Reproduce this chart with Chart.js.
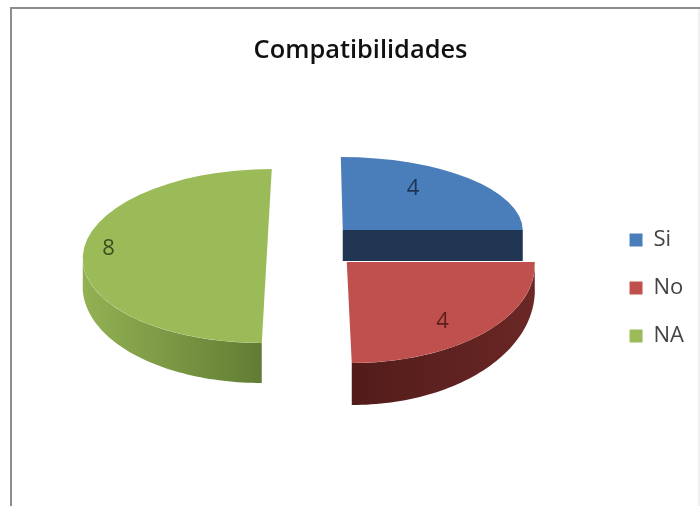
<!DOCTYPE html>
<html>
<head>
<meta charset="utf-8">
<style>
  html, body { margin: 0; padding: 0; background: #fff; }
  #wrap { width: 700px; height: 506px; }
</style>
<script src="https://cdn.jsdelivr.net/npm/chart.js@4"></script>
</head>
<body>
<div id="wrap"><canvas id="pie" width="700" height="506"></canvas></div>
<script>
// Chart content
const titleText = 'Compatibilidades';
const categories = ['Si', 'No', 'NA'];
const values = [4, 4, 8];
const topColors = ['#4a7ebb', '#c0504d', '#9bbb59'];

// Per-slice tilt: shift from the pie centre, horizontal/vertical scale and shear
const shiftX = [27.5, 31.5, -48.5];
const shiftY = [-58, -26, -32];
const scaleX = [0.90, 0.94, 0.92];
const scaleY = [0.365, 0.505, 0.435];
const shear = [0.01, 0.025, -0.025];

// Extruded rim: depth at the sides and at the front, and its shading left to right
const depthSide = [0, 25, 28];
const depthFront = [0, 42, 40];
const wallLeft = ['#1f3552', '#521c1a', '#93b153'];
const wallRight = ['#1f3552', '#6a2725', '#617d34'];
// Flat cut face of the first slice
const cutDepth = [31, 0, 0];
const cutColor = ['#1f3552', null, null];

// Value labels: position along the arc (0..1) and along the radius (0..1)
const labelAlong = [0.375, 0.545, 0.54];
const labelRadial = [0.715, 0.755, 0.87];
const labelColors = ['#1d3554', '#5a1f1d', '#3b4f1c'];

const drawOrder = [2, 0, 1];

function project(p, i, px, py) {
  const dx = px - p.x, dy = py - p.y;
  return {
    x: p.x + shiftX[i] + scaleX[i] * dx + shear[i] * dy,
    y: p.y + shiftY[i] + scaleY[i] * dy
  };
}

function drawRim(ctx, p, i) {
  const R = p.outerRadius;
  if (cutDepth[i] > 0) {
    const a = project(p, i, p.x, p.y);
    const b = project(p, i, p.x + R * Math.cos(p.endAngle), p.y + R * Math.sin(p.endAngle));
    ctx.fillStyle = cutColor[i];
    ctx.beginPath();
    ctx.moveTo(a.x, a.y);
    ctx.lineTo(b.x, b.y);
    ctx.lineTo(b.x, b.y + cutDepth[i]);
    ctx.lineTo(a.x, a.y + cutDepth[i]);
    ctx.closePath();
    ctx.fill();
  }
  const from = Math.max(p.startAngle, 0);
  const to = Math.min(p.endAngle, Math.PI);
  if (to <= from) return;
  const upper = [], lower = [];
  const steps = 60;
  for (let s = 0; s <= steps; s++) {
    const a = from + (to - from) * s / steps;
    const q = project(p, i, p.x + R * Math.cos(a), p.y + R * Math.sin(a));
    upper.push(q);
    lower.push({ x: q.x, y: q.y + depthSide[i] + (depthFront[i] - depthSide[i]) * Math.sin(a) });
  }
  const xs = upper.map(q => q.x);
  const grad = ctx.createLinearGradient(Math.min(...xs), 0, Math.max(...xs), 0);
  grad.addColorStop(0, wallLeft[i]);
  grad.addColorStop(1, wallRight[i]);
  ctx.fillStyle = grad;
  ctx.beginPath();
  upper.forEach((q, n) => n ? ctx.lineTo(q.x, q.y) : ctx.moveTo(q.x, q.y));
  lower.reverse().forEach(q => ctx.lineTo(q.x, q.y));
  ctx.closePath();
  ctx.fill();
}

// Draws the slices tilted, with rim and value labels, instead of the flat default
const tiltedPie = {
  id: 'tiltedPie',
  beforeDatasetDraw(chart, args) {
    const ctx = chart.ctx;
    const arcs = args.meta.data;
    drawOrder.forEach(i => {
      const arc = arcs[i];
      const p = arc.getProps(['x', 'y', 'startAngle', 'endAngle', 'outerRadius'], true);
      drawRim(ctx, p, i);
      ctx.save();
      ctx.translate(p.x + shiftX[i], p.y + shiftY[i]);
      ctx.transform(scaleX[i], 0, shear[i], scaleY[i], 0, 0);
      ctx.translate(-p.x, -p.y);
      arc.draw(ctx, chart.chartArea);
      ctx.restore();
    });
    ctx.save();
    ctx.font = '22px "Open Sans"';
    ctx.textAlign = 'center';
    ctx.textBaseline = 'middle';
    arcs.forEach((arc, i) => {
      const p = arc.getProps(['x', 'y', 'startAngle', 'endAngle', 'outerRadius'], true);
      const a = p.startAngle + (p.endAngle - p.startAngle) * labelAlong[i];
      const r = p.outerRadius * labelRadial[i];
      const q = project(p, i, p.x + r * Math.cos(a), p.y + r * Math.sin(a));
      ctx.fillStyle = labelColors[i];
      ctx.fillText(String(values[i]), q.x, q.y + 2);
    });
    ctx.restore();
    return false;
  }
};

// Chart border: top and left lines, plus the faint edge on the right
const frame = {
  id: 'frame',
  beforeDraw(chart) {
    const ctx = chart.ctx;
    ctx.save();
    ctx.strokeStyle = '#8c8c8c';
    ctx.lineWidth = 2;
    ctx.beginPath();
    ctx.moveTo(11, 506);
    ctx.lineTo(11, 8);
    ctx.lineTo(700, 8);
    ctx.stroke();
    ctx.strokeStyle = '#efefef';
    ctx.beginPath();
    ctx.moveTo(699, 9);
    ctx.lineTo(699, 506);
    ctx.stroke();
    ctx.restore();
  }
};

new Chart(document.getElementById('pie'), {
  type: 'pie',
  data: {
    labels: categories,
    datasets: [{
      data: values,
      backgroundColor: topColors,
      borderWidth: 0,
      radius: 200
    }]
  },
  plugins: [frame, tiltedPie],
  options: {
    responsive: false,
    animation: false,
    events: [],
    layout: { padding: { left: 27, right: 6, top: 0, bottom: 10 } },
    plugins: {
      tooltip: { enabled: false },
      title: {
        display: true,
        text: titleText,
        color: '#111111',
        font: { family: '"Open Sans"', size: 25.4, weight: '600' },
        padding: { top: 36, bottom: 13.5 }
      },
      legend: {
        position: 'right',
        fullSize: false,
        labels: {
          boxWidth: 13,
          boxHeight: 13,
          padding: 26,
          color: '#444444',
          font: { family: '"Open Sans"', size: 22 }
        }
      }
    }
  }
});
</script>
</body>
</html>
